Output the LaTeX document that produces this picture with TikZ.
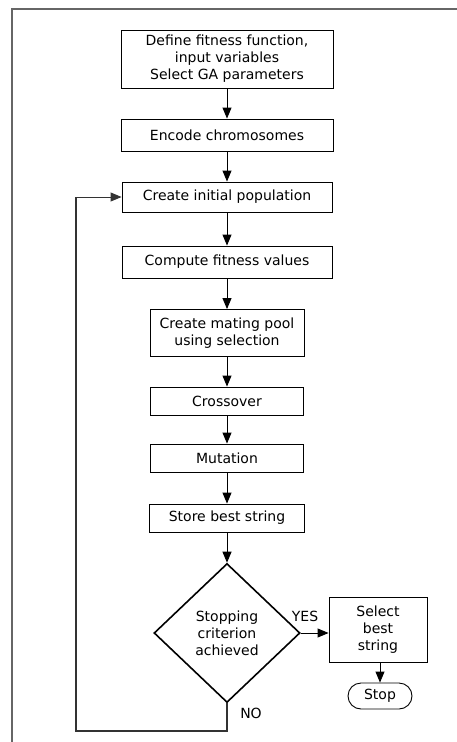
\documentclass[tikz,border=0pt]{standalone}
\usepackage{fontspec}
\setmainfont{DejaVu Sans}
\usetikzlibrary{arrows.meta,shapes.geometric,shapes.misc}
\begin{document}
\begin{tikzpicture}[x=1pt,y=-1pt,
  font=\fontsize{14}{17}\selectfont,
  box/.style={draw,line width=0.9pt,align=center,inner sep=0pt},
  arr/.style={line width=0.9pt,-{Triangle[length=11pt,width=9pt]}},
  frame/.style={draw=black!60,line width=1.8pt},
  loopline/.style={draw=black!80,line width=1.2pt}]
\useasboundingbox (0,0) rectangle (457,742);
\draw[frame] (457,9) -- (12,9) -- (12,742);
\node[box,minimum width=212pt,minimum height=58pt] (b1) at (227,59) {Define fitness function,\\input variables\\Select GA parameters};
\node[box,minimum width=212pt,minimum height=32pt] (b2) at (227,135) {Encode chromosomes};
\node[box,minimum width=210pt,minimum height=30pt] (b3) at (227,197) {Create initial population};
\node[box,minimum width=210pt,minimum height=32pt] (b4) at (227,262) {Compute fitness values};
\node[box,minimum width=154pt,minimum height=47pt] (b5) at (227,333) {Create mating pool\\using selection};
\node[box,minimum width=153pt,minimum height=28pt] (b6) at (227,401) {Crossover};
\node[box,minimum width=153pt,minimum height=28pt] (b7) at (227,458) {Mutation};
\node[box,minimum width=155pt,minimum height=28pt] (b8) at (227,518) {Store best string};
\node[diamond,draw,line width=1.6pt,minimum width=146pt,minimum height=139pt,inner sep=0pt,align=center] (d) at (227,633) {Stopping\\criterion\\achieved};
\node[box,minimum width=98pt,minimum height=65pt] (sel) at (378,630) {Select\\best\\string};
\node[draw,line width=0.9pt,rounded rectangle,minimum width=64pt,minimum height=26pt,inner sep=0pt] (stop) at (380,696) {Stop};
\node (yes) at (305,616) {YES};
\node (no) at (251,713) {NO};
\coordinate (c1) at (227,731);
\coordinate (c2) at (76,731);
\draw[arr] (b1) -- (b2);
\draw[arr] (b2) -- (b3);
\draw[arr] (b3) -- (b4);
\draw[arr] (b4) -- (b5);
\draw[arr] (b5) -- (b6);
\draw[arr] (b6) -- (b7);
\draw[arr] (b7) -- (b8);
\draw[arr] (b8) -- (d.north);
\draw[arr] (d.east) -- (d.east -| sel.west);
\draw[arr] (sel.south -| stop.north) -- (stop.north);
\draw[loopline] (d.south) -- (c1) -- (c2) -- (c2 |- b3.west);
\draw[arr,draw=black!80] (c2 |- b3.west) -- (b3.west);
\end{tikzpicture}
\end{document}
